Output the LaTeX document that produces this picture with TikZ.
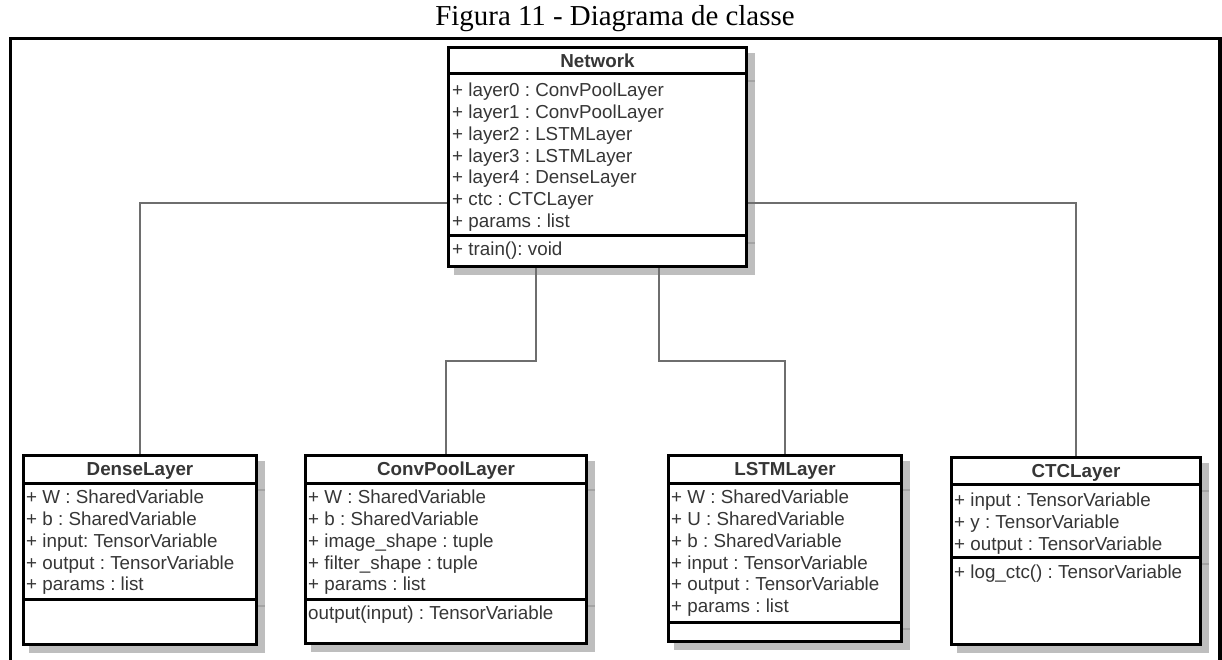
\documentclass[tikz,border=0pt]{standalone}
\usepackage{fontspec}
\setmainfont{Liberation Serif}
\newfontfamily\umlsans{Liberation Sans}
\frenchspacing

\definecolor{textgray}{HTML}{363636}
\definecolor{conngray}{HTML}{6E6E6E}
\definecolor{shadowfill}{HTML}{BEBEBE}
\definecolor{shadowedge}{HTML}{A4A4A4}

\pgfdeclarelayer{shadowlayer}
\pgfdeclarelayer{connlayer}
\pgfsetlayers{shadowlayer,connlayer,main}

\tikzset{
  umlbox/.style={rectangle, draw=black, line width=3pt, fill=white, inner sep=0pt},
  compsep/.style={draw=black, line width=3pt},
  shadowbox/.style={fill=shadowfill},
  shadowsep/.style={draw=shadowedge, line width=2pt},
  attr/.style={anchor=base west, inner sep=0pt, text=textgray,
    font=\umlsans\fontsize{18.8}{21.8}\selectfont},
  classname/.style={anchor=base, inner sep=0pt, text=textgray,
    font=\umlsans\bfseries\fontsize{18.8}{21.8}\selectfont},
  assoc/.style={draw=conngray, line width=2pt},
  frameline/.style={draw=black, line width=3.2pt},
}

% class box: name, left, top, right, bottom (outer edges)
\newcommand\umlclass[5]{%
  \begin{pgfonlayer}{shadowlayer}
    \fill[shadowbox] (#2+7,#3+7) rectangle (#4+7,#5+7);
  \end{pgfonlayer}
  \node[umlbox, minimum width={#4-#2-3}, minimum height={#5-#3-3}]
    (#1) at ({(#2+#4)/2},{(#3+#5)/2}) {};
}
% compartment line: left, right, y
\newcommand\umlsep[3]{%
  \draw[compsep] (#1+1.5,#3) -- (#2-1.5,#3);
  \begin{pgfonlayer}{shadowlayer}
    \draw[shadowsep] (#1+7,#3+7) -- (#2+7,#3+7);
  \end{pgfonlayer}
}

\begin{document}
\begin{tikzpicture}[x=1pt, y=-1pt]
\useasboundingbox (0,0) rectangle (1222,660);

% caption and frame
\node[font=\fontsize{28.9}{34}\selectfont, anchor=base, inner sep=0pt] (caption)
  at (615,26) {Figura 11 - Diagrama de classe};
\draw[frameline] (10.5,665) -- (10.5,38.8) -- (1220,38.8) -- (1220,665);

% Network
\umlclass{net}{447}{46}{748}{268}
\umlsep{447}{748}{74}
\umlsep{447}{748}{236}
\node[classname] (net-name) at (597.5,67.3) {Network};
\foreach \t [count=\i] in {+ layer0 : ConvPoolLayer, + layer1 : ConvPoolLayer,
    + layer2 : LSTMLayer, + layer3 : LSTMLayer, + layer4 : DenseLayer,
    + ctc : CTCLayer, + params : list}
  \node[attr] (net-a\i) at (452,{96.7+21.8*(\i-1)}) {\t};
\node[attr] (net-m1) at (452,255.7) {+ train(): void};

% DenseLayer
\umlclass{dense}{22}{454}{258}{646}
\umlsep{22}{258}{483}
\umlsep{22}{258}{599}
\node[classname] (dense-name) at (140,475.5) {DenseLayer};
\foreach \t [count=\i] in {+ W : SharedVariable, + b : SharedVariable,
    + input: TensorVariable, + output : TensorVariable, + params : list}
  \node[attr] (dense-a\i) at (26,{503.7+21.8*(\i-1)}) {\t};

% ConvPoolLayer
\umlclass{conv}{304}{454}{588}{645}
\umlsep{304}{588}{483}
\umlsep{304}{588}{599}
\node[classname] (conv-name) at (446,475.5) {ConvPoolLayer};
\foreach \t [count=\i] in {+ W : SharedVariable, + b : SharedVariable,
    + image\_shape : tuple, + filter\_shape : tuple, + params : list}
  \node[attr] (conv-a\i) at (308,{503.7+21.8*(\i-1)}) {\t};
\node[attr] (conv-m1) at (308,619.7) {output(input) : TensorVariable};

% LSTMLayer
\umlclass{lstm}{667}{454}{903}{643}
\umlsep{667}{903}{483}
\umlsep{667}{903}{622}
\node[classname] (lstm-name) at (785,475.5) {LSTMLayer};
\foreach \t [count=\i] in {+ W : SharedVariable, + U : SharedVariable,
    + b : SharedVariable, + input : TensorVariable, + output : TensorVariable,
    + params : list}
  \node[attr] (lstm-a\i) at (671,{503.7+21.8*(\i-1)}) {\t};

% CTCLayer
\umlclass{ctc}{950}{456}{1202}{646}
\umlsep{950}{1202}{484}
\umlsep{950}{1202}{557}
\node[classname] (ctc-name) at (1076,477.5) {CTCLayer};
\foreach \t [count=\i] in {+ input : TensorVariable, + y : TensorVariable,
    + output : TensorVariable}
  \node[attr] (ctc-a\i) at (954,{506.7+21.8*(\i-1)}) {\t};
\node[attr] (ctc-m1) at (954,578.7) {+ log\_ctc() : TensorVariable};

% associations
\begin{pgfonlayer}{connlayer}
  \draw[assoc] (net.west |- 0,203) -| (dense.north);
  \draw[assoc] (net.east |- 0,203) -| (ctc.north);
  \draw[assoc] (net.south -| 536,0) |- (conv.north |- 0,361) -- (conv.north);
  \draw[assoc] (net.south -| 659,0) |- (lstm.north |- 0,361) -- (lstm.north);
\end{pgfonlayer}
\end{tikzpicture}
\end{document}
